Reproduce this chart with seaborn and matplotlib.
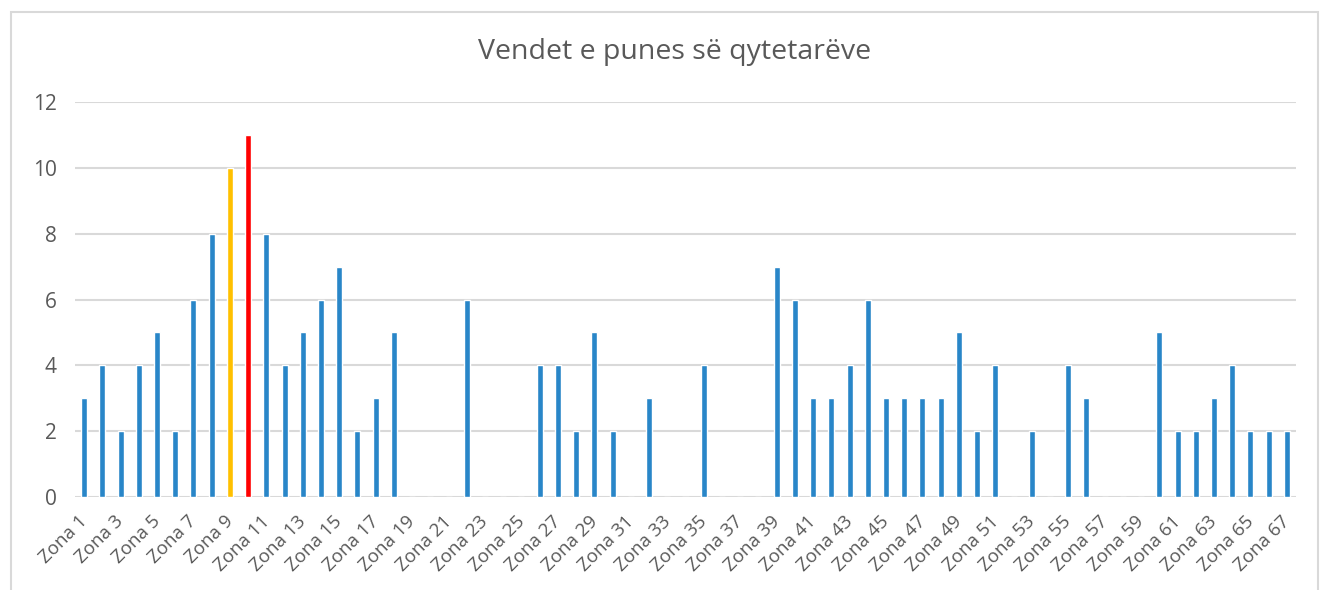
import matplotlib
matplotlib.use("Agg")
import matplotlib.pyplot as plt
import matplotlib.transforms as mtransforms
from matplotlib.patches import Rectangle
import seaborn as sns
import pandas as pd

# Number of workplaces per zone
zones = [f"Zona {i}" for i in range(1, 68)]
values = [3, 4, 2, 4, 5, 2, 6, 8, 10, 11,
          8, 4, 5, 6, 7, 2, 3, 5, 0, 0,
          0, 6, 0, 0, 0, 4, 4, 2, 5, 2,
          0, 3, 0, 0, 4, 0, 0, 0, 7, 6,
          3, 3, 4, 6, 3, 3, 3, 3, 5, 2,
          4, 0, 2, 0, 4, 3, 0, 0, 0, 5,
          2, 2, 3, 4, 2, 2, 2]
highlight = {"Zona 9": "#ffc000", "Zona 10": "#ff0000"}
base_color = "#2986c8"
title = "Vendet e punes së qytetarëve"

df = pd.DataFrame({"zone": zones, "value": values})
palette = {z: highlight.get(z, base_color) for z in zones}

sns.set_theme(style="white")
plt.rcParams["font.family"] = ["Open Sans", "DejaVu Sans"]

fig = plt.figure(figsize=(13.2, 5.9), dpi=100)
ax = fig.add_axes([75 / 1320, 1 - 497 / 590, (1296 - 75) / 1320, (497 - 102) / 590])

sns.barplot(data=df, x="zone", y="value", hue="zone", palette=palette,
            dodge=False, width=0.33, legend=False, ax=ax, saturation=1)

ax.set_ylim(0, 12)
ax.set_xlim(-0.5, len(zones) - 0.5)
ax.set_yticks(range(0, 13, 2))
ax.yaxis.grid(True, color="#d9d9d9", linewidth=1.5)
ax.set_axisbelow(True)
for s in ax.spines.values():
    s.set_visible(False)
ax.set_xlabel("")
ax.set_ylabel("")

ax.set_xticks(range(0, len(zones), 2))
ax.set_xticklabels(zones[::2], rotation=45, ha="right", rotation_mode="anchor",
                   fontsize=13.5, color="#595959")
ax.tick_params(axis="x", length=0, pad=11)
ax.tick_params(axis="y", length=0, pad=13, labelsize=15, labelcolor="#595959")

# nudge the rotated labels so their ends sit under the bars
shift = mtransforms.ScaledTranslation(-6 / 100, 0, fig.dpi_scale_trans)
for lbl in ax.get_xticklabels():
    lbl.set_transform(lbl.get_transform() + shift)

fig.text(675 / 1320, 1 - 52 / 590, title, ha="center", va="center",
         fontsize=20.5, color="#595959")

# light frame around the chart area
fig.patches.append(Rectangle((11 / 1320, -0.1), (1318 - 11) / 1320, 1.1 - 12 / 590,
                             transform=fig.transFigure, fill=False,
                             edgecolor="#d9d9d9", linewidth=1.5))

fig.savefig("out.png", dpi=100, facecolor="white")
